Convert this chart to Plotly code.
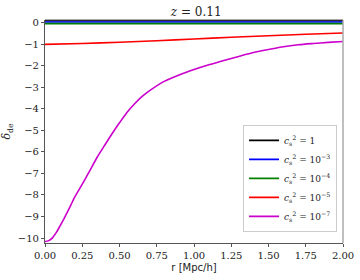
import plotly.graph_objects as go

# Data
r_grid = [0.0, 0.5, 1.0, 1.5, 2.0]
delta_cs1 = [0.09, 0.09, 0.09, 0.09, 0.09]
delta_cs1e3 = [0.03, 0.03, 0.03, 0.03, 0.03]
delta_cs1e4 = [-0.05, -0.05, -0.05, -0.05, -0.05]

r_red = [0.0, 0.25, 0.5, 0.75, 1.0, 1.25, 1.5, 1.75, 2.0]
delta_cs1e5 = [-1.01, -0.97, -0.91, -0.84, -0.76, -0.68, -0.61, -0.54, -0.48]

r_mag = [0.0, 0.025, 0.05, 0.075, 0.1, 0.125, 0.15, 0.175, 0.2, 0.25, 0.3,
         0.35, 0.4, 0.45, 0.5, 0.55, 0.6, 0.65, 0.7, 0.8, 0.9, 1.0, 1.1, 1.2,
         1.3, 1.4, 1.5, 1.6, 1.7, 1.8, 1.9, 2.0]
delta_cs1e7 = [-10.16, -10.12, -9.99, -9.75, -9.45, -9.13, -8.8, -8.45, -8.09,
               -7.5, -6.88, -6.25, -5.7, -5.16, -4.65, -4.17, -3.78, -3.44,
               -3.17, -2.73, -2.43, -2.18, -1.96, -1.76, -1.57, -1.39, -1.25,
               -1.12, -1.03, -0.97, -0.92, -0.88]

x_ticks = [0.0, 0.25, 0.5, 0.75, 1.0, 1.25, 1.5, 1.75, 2.0]
y_ticks = [0, -1, -2, -3, -4, -5, -6, -7, -8, -9, -10]

labels = [
    "<i>c</i><sub>s</sub><sup>2</sup> = 1",
    "<i>c</i><sub>s</sub><sup>2</sup> = 10<sup>−3</sup>",
    "<i>c</i><sub>s</sub><sup>2</sup> = 10<sup>−4</sup>",
    "<i>c</i><sub>s</sub><sup>2</sup> = 10<sup>−5</sup>",
    "<i>c</i><sub>s</sub><sup>2</sup> = 10<sup>−7</sup>",
]
colors = ["#000000", "#0000ff", "#008000", "#ff0000", "#cc00cc"]

serif = "DejaVu Serif"

fig = go.Figure()
series = [
    (r_grid, delta_cs1),
    (r_grid, delta_cs1e3),
    (r_grid, delta_cs1e4),
    (r_red, delta_cs1e5),
    (r_mag, delta_cs1e7),
]
for (xs, ys), lab, col in zip(series, labels, colors):
    fig.add_trace(go.Scatter(x=xs, y=ys, mode="lines", name=lab,
                             line=dict(color=col, width=1.6, shape="spline", smoothing=0.8)))

fig.update_layout(
    width=360, height=280,
    margin=dict(l=45, r=17, t=20, b=37),
    paper_bgcolor="white", plot_bgcolor="white",
    font=dict(family=serif, size=10, color="#222"),
    title=dict(text="<i>z</i> = 0.11", x=0.545, xanchor="center", y=0.957, yanchor="middle",
               font=dict(family=serif, size=12, color="#222")),
    xaxis=dict(range=[0, 2], tickvals=x_ticks, tickformat=".2f", showgrid=False, zeroline=False,
               showline=True, linecolor="#555", linewidth=1.2, ticks="outside", ticklen=3,
               tickcolor="#555", tickfont=dict(family=serif, size=10), automargin=False,
               title=dict(text="r [Mpc/h]", font=dict(family="DejaVu Sans", size=10), standoff=3)),
    yaxis=dict(range=[-10.23, 0.12], tickvals=y_ticks, showgrid=False, zeroline=False,
               showline=True, linecolor="#555", linewidth=1.2, ticks="outside", ticklen=3,
               tickcolor="#555", tickfont=dict(family=serif, size=10), automargin=False,
               title=dict(text="<i>δ</i><sub>de</sub>", font=dict(family=serif, size=11), standoff=4)),
    legend=dict(x=0.98, y=0.05, xanchor="right", yanchor="bottom",
                bgcolor="white", bordercolor="#cccccc", borderwidth=1,
                font=dict(family=serif, size=9), tracegroupgap=0, itemwidth=30),
    showlegend=True,
)
# right and top frame
fig.add_shape(type="line", xref="paper", yref="paper", x0=1, x1=1, y0=0, y1=1,
              line=dict(color="#aaaaaa", width=1.5))
fig.add_shape(type="line", xref="paper", yref="paper", x0=0, x1=1, y0=1, y1=1,
              line=dict(color="#555", width=1.2))

fig.write_html("out.html", config={"displayModeBar": False},
               post_script="document.body.style.margin='0';")
